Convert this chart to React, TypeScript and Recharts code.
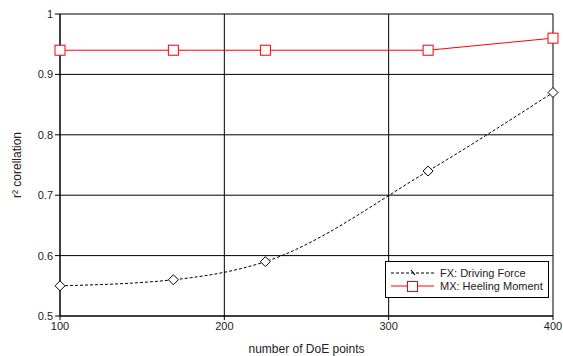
import React from "react";
import {
  LineChart,
  Line,
  XAxis,
  YAxis,
  CartesianGrid,
  Label,
} from "recharts";

const doePoints = [100, 169, 225, 324, 400];
const fxDrivingForce = [0.55, 0.56, 0.59, 0.74, 0.87];
const mxHeelingMoment = [0.94, 0.94, 0.94, 0.94, 0.96];
const xTicks = [100, 200, 300, 400];
const yTicks = [0.5, 0.6, 0.7, 0.8, 0.9, 1];

const data = doePoints.map((x, i) => ({
  x,
  fx: fxDrivingForce[i],
  mx: mxHeelingMoment[i],
}));

const FONT = "'Liberation Sans', Arial, sans-serif";

const Diamond = (props: any) => {
  const { cx, cy, index } = props;
  if (cx == null || cy == null) return <g key={`d-${index}`} />;
  const r = 5;
  return (
    <path
      key={`d-${index}`}
      d={`M${cx},${cy - r} L${cx + r},${cy} L${cx},${cy + r} L${cx - r},${cy} Z`}
      fill="#fff"
      stroke="#000"
      strokeWidth={1}
    />
  );
};

const Square = (props: any) => {
  const { cx, cy, index } = props;
  if (cx == null || cy == null) return <g key={`s-${index}`} />;
  const h = 5;
  return (
    <rect
      key={`s-${index}`}
      x={cx - h}
      y={cy - h}
      width={h * 2}
      height={h * 2}
      fill="#fff"
      stroke="#ff0000"
      strokeWidth={1}
    />
  );
};

// legend drawn as an overlay so it does not shrink the plot area
const LegendBox = () => (
  <svg
    width={165}
    height={38}
    style={{ position: "absolute", left: 385, top: 261, display: "block" }}
  >
    <rect x={0.5} y={0.5} width={163} height={36} fill="#fff" stroke="#000" />
    <line x1={6} y1={12} x2={49} y2={12} stroke="#000" strokeDasharray="3 2" />
    <line x1={26} y1={9} x2={30} y2={14} stroke="#000" strokeWidth={1.2} />
    <text x={55} y={16} fontSize={11} fontFamily={FONT} fill="#222">
      FX: Driving Force
    </text>
    <line x1={6} y1={25} x2={49} y2={25} stroke="#ff0000" />
    <rect x={22.5} y={20.5} width={10} height={10} fill="#fff" stroke="#ff0000" />
    <text x={55} y={29} fontSize={11} fontFamily={FONT} fill="#222">
      MX: Heeling Moment
    </text>
  </svg>
);

export default function App() {
  return (
    <div style={{ position: "absolute", left: 0, top: 0, width: 563, height: 356, background: "#fff" }}>
      <LineChart
        width={563}
        height={356}
        data={data}
        margin={{ top: 14, right: 10, left: 0, bottom: 0 }}
      >
        <CartesianGrid stroke="#000" strokeWidth={1} />
        <XAxis
          dataKey="x"
          type="number"
          domain={[100, 400]}
          ticks={xTicks}
          height={40}
          stroke="#000"
          tickSize={4}
          tick={{ fill: "#222", fontSize: 11, fontFamily: FONT }}
        >
          <Label
            value="number of DoE points"
            position="insideBottom"
            offset={3}
            style={{ fill: "#222", fontSize: 12, fontFamily: FONT }}
          />
        </XAxis>
        <YAxis
          type="number"
          domain={[0.5, 1]}
          ticks={yTicks}
          width={60}
          stroke="#000"
          tickSize={5}
          tick={{ fill: "#222", fontSize: 11, fontFamily: FONT }}
        >
          <Label
            value="r² corellation"
            angle={-90}
            position="insideLeft"
            offset={17}
            style={{ fill: "#222", fontSize: 12, fontFamily: FONT, textAnchor: "middle" }}
          />
        </YAxis>
        <Line
          type="monotone"
          dataKey="fx"
          stroke="#000"
          strokeWidth={1}
          strokeDasharray="3 2"
          dot={Diamond}
          activeDot={false}
          isAnimationActive={false}
        />
        <Line
          type="linear"
          dataKey="mx"
          stroke="#ff0000"
          strokeWidth={1}
          dot={Square}
          activeDot={false}
          isAnimationActive={false}
        />
      </LineChart>
      <LegendBox />
    </div>
  );
}
